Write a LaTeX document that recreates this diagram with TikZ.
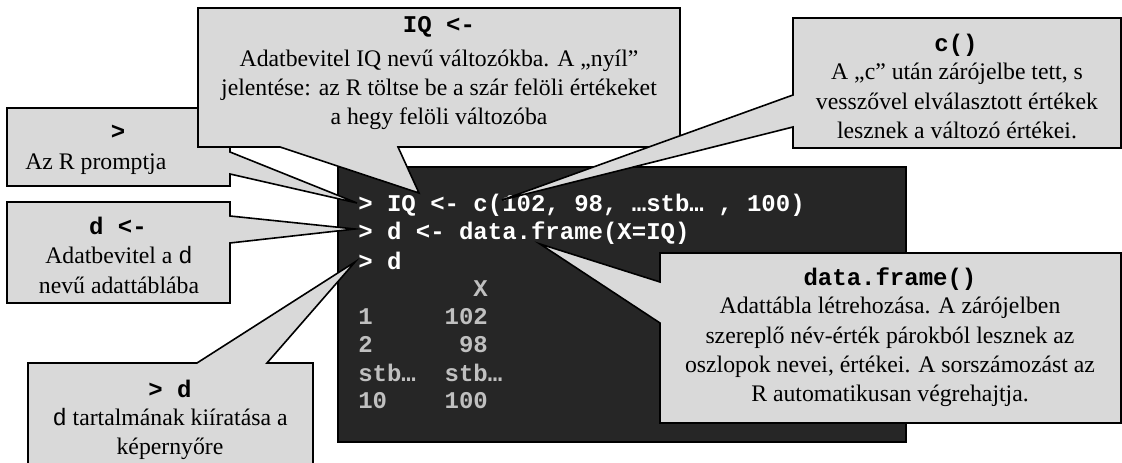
\documentclass[tikz,border=0pt]{standalone}
\usepackage{fontspec}
\setmainfont{Liberation Serif}
\setmonofont{Liberation Mono}
\newcommand{\bodyfnt}{\fontsize{17.8pt}{21.9pt}\selectfont\rmfamily}
\newcommand{\codefnt}{\fontsize{18pt}{21pt}\selectfont\ttfamily\bfseries}
\definecolor{calloutgray}{HTML}{D9D9D9}
\definecolor{consolebg}{HTML}{262626}
\definecolor{outgray}{HTML}{C0C0C0}
\tikzset{
  callout/.style={draw=black, fill=calloutgray, line width=1.2pt},
  console/.style={draw=black, fill=consolebg, line width=1.2pt},
  ctitle/.style={inner sep=0pt, font=\codefnt, text=black},
  cbody/.style={inner sep=0pt, font=\bodyfnt, align=center, text=black},
  cmd/.style={inner sep=0pt, anchor=west, font=\codefnt, text=white},
  outp/.style={inner sep=0pt, anchor=west, font=\codefnt, text=outgray}
}
\begin{document}
\begin{tikzpicture}[x=0.75pt, y=-0.75pt]
\useasboundingbox (0,0) rectangle (1122,463);
\clip (0,0) rectangle (1122,463);
% console
\draw[console] (338,167) rectangle (906,442);
\node[cmd]  (l1) at (358,205) {> IQ <- c(102, 98, …stb… , 100)};
\node[cmd]  (l2) at (358,233) {> d <- data.frame(X=IQ)};
\node[cmd]  (l3) at (358,261) {> d};
\node[outp] (l4) at (358,289) {~~~~~~~~X};
\node[outp] (l5) at (358,317) {1~~~~~102};
\node[outp] (l6) at (358,345) {2~~~~~~98};
\node[outp] (l7) at (358,373) {stb…~~stb…};
\node[outp] (l8) at (358,401) {10~~~~100};
% tips
\coordinate (tPrompt) at (357,203);
\coordinate (tIQ) at (419,193);
\coordinate (tC) at (502,200);
\coordinate (tD) at (355,229);
\coordinate (tPD) at (355,262);
\coordinate (tDF) at (540,244);
% prompt callout
\draw[callout] (7,108) -- (230,108) -- (230,152) -- (tPrompt) -- (230,174) -- (230,186) -- (7,186) -- cycle;
\node[ctitle] (promptT) at (118,132) {>};
\node[cbody, anchor=west] (promptB) at (25,164) {Az R promptja};
% IQ callout
\draw[callout] (198,8) -- (680,8) -- (680,147) -- (398,147) -- (tIQ) -- (280,147) -- (198,147) -- cycle;
\node[ctitle] (iqT) at (439,27) {IQ <-};
\node[cbody] (iqB) at (439,90) {Adatbevitel IQ nevű változókba. A „nyíl”\\jelentése: az R töltse be a szár felöli értékeket\\a hegy felöli változóba};
% c() callout
\draw[callout] (793,18) -- (1121,18) -- (1121,148) -- (793,148) -- (793,127) -- (tC) -- (793,95) -- cycle;
\node[ctitle] (cT) at (956,45) {c()};
\node[cbody] (cB) at (957,101) {A „c” után zárójelbe tett, s\\vesszővel elválasztott értékek\\lesznek a változó értékei.};
% d <- callout
\draw[callout] (7,202) -- (230,202) -- (230,216) -- (tD) -- (230,243) -- (230,303) -- (7,303) -- cycle;
\node[ctitle] (dT) at (118,226) {d <-};
\node[cbody] (dB) at (119,270) {Adatbevitel a {\ttfamily\mdseries d}\\nevű adattáblába};
% > d callout
\draw[callout] (28,363) -- (197,363) -- (tPD) -- (267,363) -- (313,363) -- (313,470) -- (28,470) -- cycle;
\node[ctitle] (pdT) at (170,389) {> d};
\node[cbody] (pdB) at (170,434) {{\ttfamily\mdseries d} tartalmának kiíratása a\\képernyőre};
% data.frame callout
\draw[callout] (660,253) -- (1121,253) -- (1121,423) -- (660,423) -- (660,323) -- (tDF) -- (660,282) -- cycle;
\node[ctitle] (dfT) at (890,279) {data.frame()};
\node[cbody] (dfB) at (890,352) {Adattábla létrehozása. A zárójelben\\szereplő név-érték párokból lesznek az\\oszlopok nevei, értékei. A sorszámozást az\\R automatikusan végrehajtja.};
\end{tikzpicture}
\end{document}
